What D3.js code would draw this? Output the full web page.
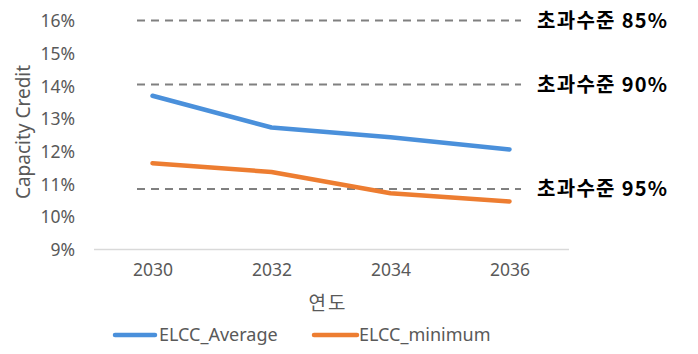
<!DOCTYPE html>
<html><head><meta charset="utf-8">
<script src="https://cdn.jsdelivr.net/npm/d3@7"></script>
<style>body{margin:0;background:#fff}svg{display:block}</style>
</head><body><svg id="c" width="698" height="354"></svg>
<script>
const years = ["2030","2032","2034","2036"];
const elccAverage = [13.70, 12.73, 12.43, 12.06];
const elccMinimum = [11.64, 11.37, 10.72, 10.47];
const yTicks = [9,10,11,12,13,14,15,16];
const refLevels = [16.0, 14.04, 10.85];
const refLabels = ["초과수준 85%","초과수준 90%","초과수준 95%"];
const seriesNames = ["ELCC_Average","ELCC_minimum"];
const colors = ["#4a90db","#ed7d31"];

const svg = d3.select("#c");
const x = d3.scalePoint().domain(years).range([152.5, 509.5]);
const y = d3.scaleLinear().domain([9,16]).range([249.5, 20.5]);
const font = "'Noto Sans','Noto Sans CJK KR',sans-serif";
const kfont = "'Noto Sans CJK KR',sans-serif";

// y axis labels
const ya = svg.append("g").attr("transform","translate(75,0)")
  .call(d3.axisLeft(y).tickValues(yTicks).tickFormat(d=>d+"%").tickSize(0).tickPadding(0));
ya.select(".domain").remove();
ya.selectAll("text").attr("font-family",font).attr("font-size",17.5).attr("fill","#595959").attr("dy","0.35em");

// x axis
const xa = svg.append("g").attr("transform","translate(0,249.5)")
  .call(d3.axisBottom(x).tickSize(0).tickPadding(14));
xa.select(".domain").attr("d","M94,0H569").attr("stroke","#d9d9d9").attr("stroke-width",1.5);
xa.selectAll("text").attr("font-family",font).attr("font-size",17.5).attr("fill","#595959");

// reference dashed lines
refLevels.forEach((v,i)=>{
  svg.append("line").attr("x1",137).attr("x2",521).attr("y1",y(v)).attr("y2",y(v))
    .attr("stroke","#808080").attr("stroke-width",2).attr("stroke-dasharray","8,6");
  svg.append("text").attr("x",537).attr("y",y(v)).attr("dy","0.36em")
    .attr("font-family",kfont).attr("font-weight","bold").attr("font-size",20)
    .attr("letter-spacing",1.3).attr("fill","#000").text(refLabels[i]);
});

// series
const line = d3.line().x((d,i)=>x(years[i])).y(d=>y(d)).curve(d3.curveLinear);
[elccAverage, elccMinimum].forEach((s,i)=>{
  svg.append("path").attr("d",line(s)).attr("fill","none").attr("stroke",colors[i])
    .attr("stroke-width",4.5).attr("stroke-linecap","round").attr("stroke-linejoin","round");
});

// axis titles
svg.append("text").attr("x",328).attr("y",303).attr("dy","0.35em").attr("text-anchor","middle")
  .attr("font-family",kfont).attr("font-size",19).attr("letter-spacing",2).attr("fill","#595959").text("연도");
svg.append("text").attr("transform","translate(23,132) rotate(-90)").attr("dy","0.35em").attr("text-anchor","middle")
  .attr("font-family",font).attr("font-size",19).attr("fill","#595959").text("Capacity Credit");

// legend
const lg = [{x1:115,x2:155,tx:159},{x1:314,x2:357,tx:359}];
seriesNames.forEach((n,i)=>{
  svg.append("line").attr("x1",lg[i].x1).attr("x2",lg[i].x2).attr("y1",335).attr("y2",335)
    .attr("stroke",colors[i]).attr("stroke-width",4.5).attr("stroke-linecap","round");
  svg.append("text").attr("x",lg[i].tx).attr("y",335).attr("dy","0.35em")
    .attr("font-family",font).attr("font-size",18).attr("fill","#595959").text(n);
});
</script></body></html>
